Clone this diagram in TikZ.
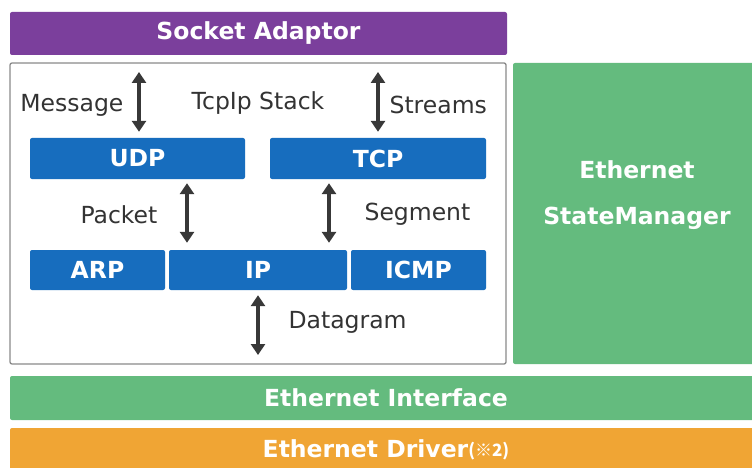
\documentclass[tikz,border=0pt]{standalone}
\usepackage{fontspec}
\setmainfont{DejaVu Sans}
\newfontfamily\cjk{Noto Sans CJK JP}
\usetikzlibrary{arrows.meta,positioning}

\definecolor{adaptorpurple}{HTML}{7B3F9C}
\definecolor{protoblue}{HTML}{176DBE}
\definecolor{ethgreen}{HTML}{64BB7E}
\definecolor{driverorange}{HTML}{F0A534}
\definecolor{framegray}{HTML}{8A8A8A}
\definecolor{arrowgray}{HTML}{383838}
\definecolor{labelgray}{HTML}{333333}

\begin{document}
\begin{tikzpicture}[x=1pt,y=-1pt,
  layer/.style={rectangle,rounded corners=2pt,inner sep=0pt,text=white,
    font=\fontsize{23.5}{27}\selectfont\bfseries},
  proto/.style={layer,fill=protoblue,minimum height=41pt},
  link/.style={{Triangle[length=11pt,width=14pt]}-{Triangle[length=11pt,width=14pt]},
    line width=3.2pt,draw=arrowgray},
  lbl/.style={inner sep=0pt,text=labelgray,font=\fontsize{23.5}{27}\selectfont}
]
  \clip (0,0) rectangle (752,468);
  % outer layers
  \node[layer,fill=adaptorpurple,minimum width=497pt,minimum height=43pt] (adaptor) at (258.5,33.5) {Socket Adaptor};
  \node[draw=framegray,line width=1.3pt,fill=white,rounded corners=2pt,inner sep=0pt,
        minimum width=496pt,minimum height=301pt] (stack) at (258,213.5) {};
  \node[layer,fill=ethgreen,minimum width=249pt,minimum height=301pt] (statemgr) at (637.5,213.5) {};
  \node[layer,align=center,font=\fontsize{23.5}{46}\selectfont\bfseries] (smtext) at (637,195) {Ethernet\\StateManager};
  \node[layer,fill=ethgreen,minimum width=752pt,minimum height=44pt] (ethif) at (386,398) {Ethernet Interface};
  \node[layer,fill=driverorange,minimum width=752pt,minimum height=44pt] (driver) at (386,450)
    {Ethernet Driver\raisebox{1.5pt}{\cjk\fontsize{17}{19}\selectfont\bfseries(※2)}};
  % protocols
  \node[proto,minimum width=215pt] (udp) at (137.5,158.5) {UDP};
  \node[proto,minimum width=216pt] (tcp) at (378,158.5) {TCP};
  \node[proto,minimum width=135pt,minimum height=40pt] (arp) at (97.5,270) {ARP};
  \node[proto,minimum width=178pt,minimum height=40pt] (ip) at (258,270) {IP};
  \node[proto,minimum width=135pt,minimum height=40pt] (icmp) at (418.5,270) {ICMP};
  \node[lbl] (stacklbl) at (258,103) {TcpIp Stack};
  % arrows
  \coordinate (msgtop) at (139,72);
  \coordinate (strtop) at (378,72);
  \coordinate (pkt) at (187,0);
  \coordinate (seg) at (329,0);
  \coordinate (dgbot) at (258,355);
  \draw[link,shorten >=6pt] (msgtop) -- node[lbl,left=14pt] {Message} (msgtop |- udp.north);
  \draw[link,shorten >=6pt] (strtop) -- node[lbl,right=10pt] {Streams} (strtop |- tcp.north);
  \draw[link,shorten <=4pt,shorten >=7pt] (pkt |- udp.south) -- node[lbl,left=28pt] {Packet} (pkt |- ip.north);
  \draw[link,shorten <=4pt,shorten >=7pt] (seg |- tcp.south) -- node[lbl,right=34pt] {Segment} (seg |- ip.north);
  \draw[link,shorten <=5pt] (ip.south) -- node[lbl,right=29pt] {Datagram} (dgbot);
\end{tikzpicture}
\end{document}
